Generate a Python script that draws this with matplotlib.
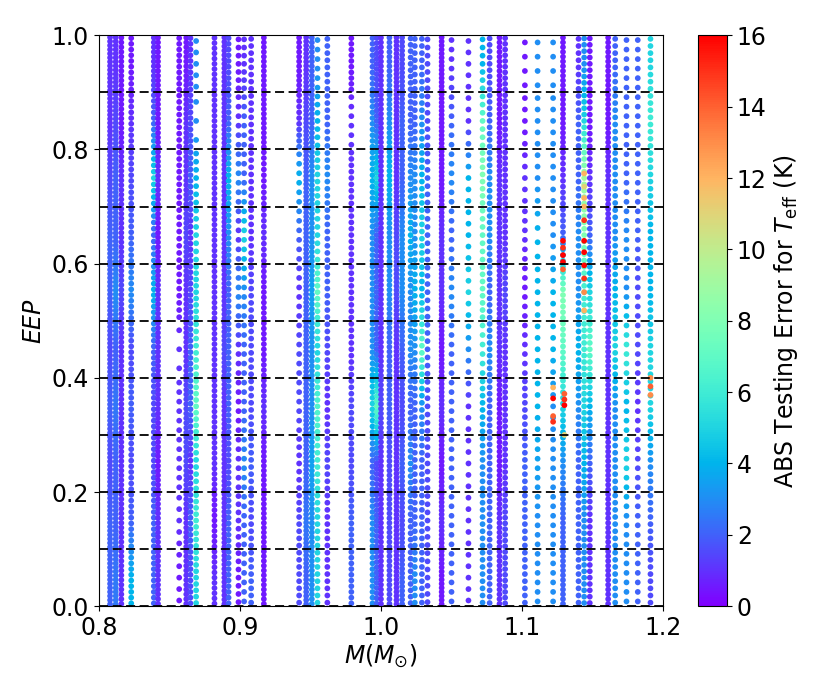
import numpy as np
import matplotlib
matplotlib.use("Agg")
import matplotlib.pyplot as plt

# stellar mass tracks (one vertical column of points each)
col_mass = [0.808, 0.812, 0.816, 0.823, 0.839, 0.842, 0.857, 0.862, 0.865, 0.869,
            0.882, 0.889, 0.892, 0.899, 0.903, 0.908, 0.917, 0.942, 0.947, 0.951,
            0.955, 0.962, 0.979, 0.994, 0.997, 1.000, 1.006, 1.011, 1.015, 1.021,
            1.024, 1.029, 1.033, 1.043, 1.050, 1.062, 1.072, 1.077, 1.084, 1.088,
            1.102, 1.111, 1.122, 1.129, 1.140, 1.144, 1.148, 1.161, 1.166, 1.174,
            1.182, 1.191]

# points per EEP band (0-0.1, 0.1-0.2, ..., 0.9-1.0)
col_counts = [
    [14] * 10, [14] * 10, [12] * 10, [10] * 10,
    [10, 10, 10, 10, 10, 10, 9, 9, 10, 12], [12] * 10,
    [5, 5, 6, 6, 3, 8, 8, 9, 9, 10], [12] * 10, [10] * 10,
    [9, 9, 8, 9, 8, 9, 7, 7, 3, 5],
    [11] * 10, [13] * 10, [10] * 10,
    [7, 7, 6, 6, 6, 6, 6, 6, 6, 7], [6, 6, 6, 6, 6, 6, 6, 6, 6, 7], [8] * 10,
    [12, 12, 12, 11, 11, 11, 10, 10, 12, 12],
    [8, 8, 7, 6, 6, 6, 6, 6, 10, 12], [14] * 10, [12] * 10,
    [8, 8, 8, 9, 8, 9, 7, 8, 7, 6], [8] * 10,
    [10, 10, 10, 9, 9, 9, 9, 9, 6, 10], [10] * 10, [11] * 10, [12] * 10,
    [12] * 10, [14] * 10, [13] * 10, [9] * 10,
    [8] * 10, [8] * 10, [7] * 10, [14] * 10, [6] * 10, [5] * 10,
    [8, 8, 8, 8, 6, 8, 7, 8, 7, 7], [9] * 10, [12] * 10, [10] * 10,
    [8, 8, 8, 8, 6, 6, 6, 5, 5, 4], [6, 6, 6, 5, 5, 5, 4, 5, 5, 4],
    [6, 6, 6, 5, 5, 5, 5, 5, 5, 4], [12, 12, 10, 10, 10, 10, 10, 10, 12, 12],
    [8] * 10, [9] * 10, [9] * 10, [12] * 10,
    [8] * 10, [6] * 10, [6] * 10, [8] * 10,
]

# absolute Teff error (K) per EEP band
col_err = [
    [2, 2, 1.5, 2, 1.5, 2, 2, 1.5, 1, 1],
    [2.5, 2, 2, 2.5, 2, 3, 2, 2, 1.5, 1],
    [1, 1, 1, 1, 1, 1.5, 1, 1, 0.5, 0.5],
    [4, 2, 1.5, 2, 1.5, 3, 2, 1.5, 1, 0.5],
    [2, 2, 1.5, 1.5, 2, 4, 2, 5, 2, 1],
    [1, 1, 0.5, 1, 1, 1, 0.5, 1, 0.5, 0.5],
    [0.5, 1, 1, 1, 1, 0.5, 0.5, 0.5, 0.5, 0.5],
    [1, 1, 1.5, 1.5, 1, 1, 1.5, 1, 1, 0.5],
    [1.5, 2, 1, 2, 2, 1.5, 1, 2, 1.5, 1],
    [5, 6, 5, 7, 6, 5, 5, 4, 3, 3],
    [1, 0.5, 1, 1, 1, 1, 1, 1, 1, 1],
    [1, 1, 1, 1, 1.5, 1, 1, 1, 1, 1],
    [2, 2, 1.5, 2, 2, 2, 3, 4, 2, 1.5],
    [0.5, 1, 1, 0.5, 1, 3, 1, 3, 1, 0.5],
    [2, 2, 3, 2, 2, 3, 5, 2, 2, 1],
    [2, 1.5, 2, 1.5, 1.5, 1.5, 1, 1, 1, 1],
    [0.5, 0.5, 0.5, 1, 0.5, 0.5, 1, 0.5, 0.5, 0.5],
    [1.5, 1.5, 1, 1.5, 1.5, 1, 2, 4, 1, 0.5],
    [2, 2.5, 2, 2, 2, 2, 2, 2, 1.5, 1],
    [3, 3, 3.5, 3, 3, 3.5, 3, 3, 2, 2],
    [5, 5, 6, 6.5, 5, 7, 5, 5, 4, 3],
    [1, 1, 1.5, 1, 1.5, 2, 2, 3, 2, 2],
    [2, 2, 1.5, 1.5, 1, 1, 1, 1, 1, 0.5],
    [3, 3, 2, 5, 3, 3, 3, 4, 3, 2],
    [2, 2, 1.5, 7, 2, 2, 2, 5, 2, 1.5],
    [1, 1, 1, 1.5, 1, 1, 1, 1, 1, 1],
    [1.5, 1.5, 1.5, 2, 2, 3, 3, 4, 3, 2],
    [1, 1, 1, 1, 1, 1.5, 1.5, 1, 1, 1],
    [2, 1.5, 2, 1.5, 2, 3, 3, 2, 2, 1.5],
    [2, 2, 3, 2, 3, 3, 4, 3, 2, 2],
    [3, 2, 2, 2, 3, 4, 3, 3, 2, 2],
    [2, 2, 2, 3, 7, 4, 5, 4, 3, 2],
    [1.5, 1.5, 1.5, 1.5, 2, 2, 2, 2, 1.5, 1.5],
    [0.5, 1, 0.5, 1, 0.5, 1, 1, 0.5, 0.5, 0.5],
    [2, 2, 2, 2, 2, 3, 2, 3, 2, 1],
    [1, 1, 1, 1, 3, 5, 4, 4, 1, 1],
    [3, 3, 3, 4, 6, 7, 7, 8, 7, 4],
    [2, 2, 2, 2, 3, 2, 3, 3, 2, 1.5],
    [1, 1, 0.5, 0.5, 1, 1, 1, 1, 0.5, 0.5],
    [1.5, 1.5, 1, 1, 1, 1.5, 1, 1, 1, 1],
    [2, 2, 2, 1.5, 1, 0.5, 1, 1, 0.5, 0.5],
    [3, 3, 3.5, 4, 4, 4, 4, 3, 3, 3],
    [3, 3, 3, 3, 4, 4, 3, 3, 3, 3],
    [2, 2, 3, 5, 7, 8, 2, 1, 0.5, 0.5],
    [2, 2, 2, 3, 4, 3, 3, 2, 2, 1],
    [3, 3, 4, 5, 6, 6, 8, 9, 5, 3],
    [1, 1, 2, 4, 7, 5, 2, 1, 0.5, 0.5],
    [1, 1, 1, 1, 1, 1, 1, 1, 0.5, 0.5],
    [3, 3, 3, 3, 5, 4, 3, 3, 3, 2],
    [3, 3, 5, 4, 6, 3, 3, 2, 2, 2],
    [2, 2, 1.5, 1, 1.5, 1.5, 2, 2, 2, 2],
    [1.5, 2, 3, 5, 5, 4, 4, 5, 6, 5],
]

# isolated high-error points
hot_mass = [1.129, 1.129, 1.129, 1.129, 1.129,
            1.122, 1.122, 1.122, 1.122,
            1.130, 1.130, 1.130, 1.130,
            1.144, 1.144, 1.144, 1.144, 1.144, 1.144, 1.144, 1.144, 1.144, 1.144, 1.144,
            1.191, 1.191, 1.191]
hot_eep = [0.590, 0.603, 0.615, 0.628, 0.640,
           0.323, 0.333, 0.364, 0.383,
           0.300, 0.352, 0.362, 0.372,
           0.518, 0.550, 0.574, 0.597, 0.620, 0.640, 0.676, 0.700, 0.715, 0.735, 0.758,
           0.370, 0.385, 0.400]
hot_err = [14, 16, 16, 15, 16,
           15, 14, 16, 12,
           11, 16, 15, 14,
           12, 13, 15, 16, 16, 16, 15, 12, 12, 11, 12,
           13, 14, 13]

band_lo = [0.0, 0.1, 0.2, 0.3, 0.4, 0.5, 0.6, 0.7, 0.8, 0.9]
band_mid = [b + 0.05 for b in band_lo]

xs, ys, cs = [], [], []
for m, counts, errs in zip(col_mass, col_counts, col_err):
    for lo, n in zip(band_lo, counts):
        e = lo + (np.arange(n) + 0.5) * 0.1 / n
        xs.extend([m] * n)
        ys.extend(e)
        cs.extend(np.interp(e, band_mid, errs))

fig = plt.figure(figsize=(8.3, 6.92), dpi=100)
ax = fig.add_axes([0.119, 0.124, 0.680, 0.825])
cax = fig.add_axes([0.841, 0.124, 0.035, 0.825])

sc = ax.scatter(xs, ys, c=cs, cmap='rainbow', vmin=0, vmax=16, s=17,
                linewidths=0, zorder=2)
ax.scatter(hot_mass, hot_eep, c=hot_err, cmap='rainbow', vmin=0, vmax=16,
           s=17, linewidths=0, zorder=3)

for y in band_lo:
    ax.axhline(y, color='k', ls=(0, (5, 2.5)), lw=1.3, zorder=4)

ax.set_xlim(0.8, 1.2)
ax.set_ylim(0.0, 1.0)
ax.set_xticks([0.8, 0.9, 1.0, 1.1, 1.2])
ax.set_yticks([0.0, 0.2, 0.4, 0.6, 0.8, 1.0])
ax.tick_params(labelsize=17)
ax.set_xlabel(r'$M(M_{\odot})$', fontsize=17, labelpad=2)
ax.set_ylabel(r'$EEP$', fontsize=17)

cb = fig.colorbar(sc, cax=cax)
cb.set_ticks(range(0, 17, 2))
cb.ax.tick_params(labelsize=17)
cb.set_label(r'ABS Testing Error for $T_{\rm eff}$ (K)', fontsize=17)
cb.outline.set_linewidth(0.8)

fig.savefig('out.png', dpi=100)
